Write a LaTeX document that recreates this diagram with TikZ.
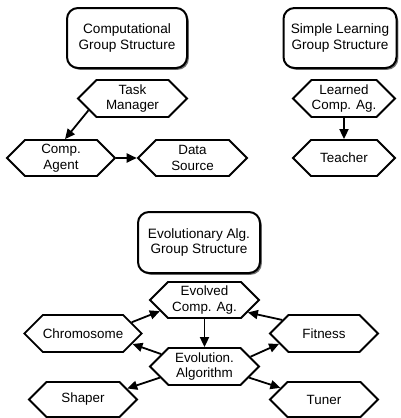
\documentclass[tikz,border=0pt]{standalone}
\usepackage{fontspec}
\setmainfont{Liberation Sans}
\usetikzlibrary{shapes.symbols,shadows,arrows.meta}
\tikzset{
  groupbox/.style={draw, line width=2pt, rounded corners=11pt, fill=white, align=center,
    inner sep=0pt, font=\fontsize{13.6}{15.5}\selectfont,
    drop shadow={shadow xshift=1.8pt, shadow yshift=-1.8pt, fill=black!55, opacity=1}},
  hexbox/.style={draw, line width=1.8pt, shape=signal, signal to=east and west, signal pointer angle=90,
    fill=white, align=center, inner sep=0pt, minimum height=36pt, minimum width=108pt,
    font=\fontsize{13.4}{15.5}\selectfont},
  arr/.style={line width=1.8pt, -{Triangle[length=10pt,width=9pt]}}
}
\begin{document}
\begin{tikzpicture}[x=1pt,y=-1pt]
\useasboundingbox (0,0) rectangle (400,418);
% group boxes
\node[groupbox, minimum width=120pt, minimum height=60pt] (cgs) at (127,38) {Computational\\Group Structure};
\node[groupbox, minimum width=113pt, minimum height=60pt] (sgs) at (340,38) {Simple Learning\\Group Structure};
\node[groupbox, minimum width=122pt, minimum height=61pt] (egs) at (199,242.5) {Evolutionary Alg.\\Group Structure};
% computational
\node[hexbox, minimum width=109pt, minimum height=37pt] (tm) at (132.5,98.5) {Task\\Manager};
\node[hexbox] (ca) at (61,158) {Comp.\\Agent};
\node[hexbox, minimum width=109pt] (ds) at (192.5,158) {Data\\Source};
% simple learning
\node[hexbox, minimum width=102pt, minimum height=37pt] (lca) at (344,98.5) {Learned\\Comp. Ag.};
\node[hexbox, minimum width=102pt] (te) at (344,158) {Teacher};
% evolutionary
\node[hexbox, minimum width=109pt] (ev) at (204.5,300) {Evolved\\Comp. Ag.};
\node[hexbox, minimum height=37pt] (ch) at (83,333.5) {Chromosome};
\node[hexbox, minimum width=109pt, minimum height=37pt] (ea) at (204.5,366.5) {Evolution.\\Algorithm};
\node[hexbox, minimum height=35pt] (sh) at (83,399.5) {Shaper};
\node[hexbox, minimum height=37pt] (fi) at (324,333.5) {Fitness};
\node[hexbox, minimum height=35pt] (tu) at (324,399.5) {Tuner};
% connectors
\draw[arr] (tm.195) -- (ca.78);
\draw[arr] (ca.east) -- (ds.west);
\draw[arr] (lca.south) -- (te.north);
\draw[arr] (ch.13) -- (ev.194);
\draw[arr] (ea.164) -- (ch.348);
\draw[arr] (ea.194) -- (sh.14);
\draw[arr] (ev.south) -- (ea.north);
\draw[arr] (fi.162) -- (ev.344);
\draw[arr] (ea.12) -- (fi.193);
\draw[arr] (ea.346) -- (tu.165);
\end{tikzpicture}
\end{document}
